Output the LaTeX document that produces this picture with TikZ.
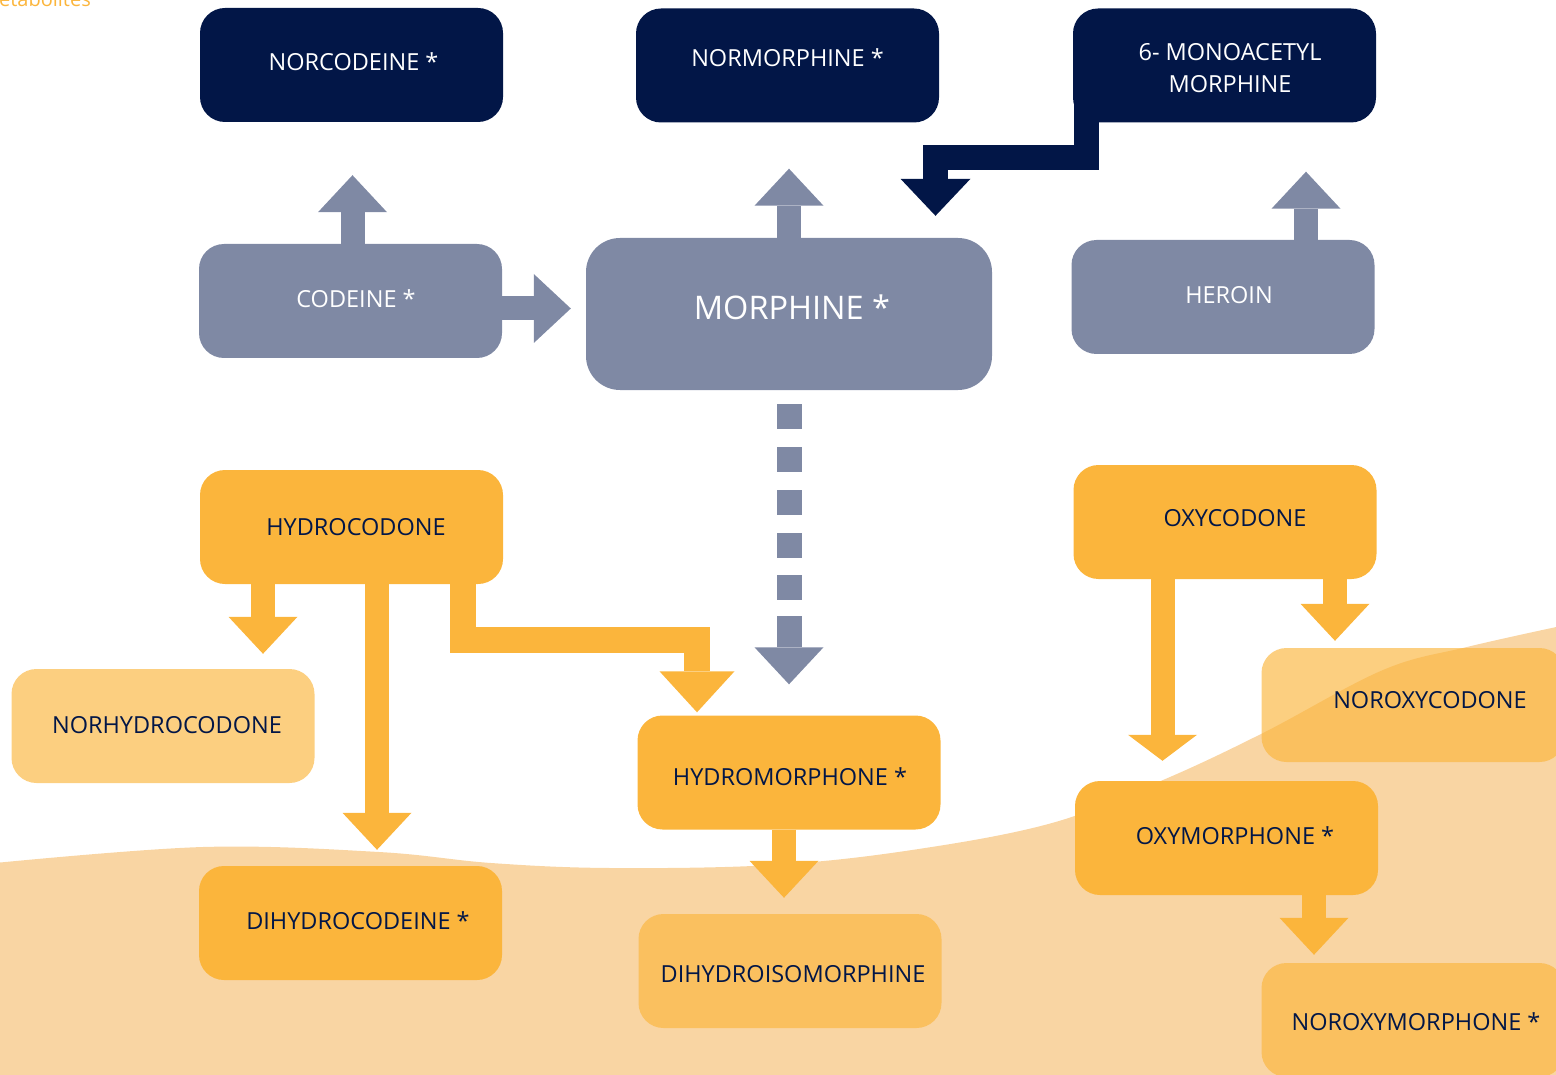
\documentclass[tikz,border=0pt]{standalone}
\usepackage{fontspec}
\setmainfont{Open Sans}
\usepackage{tikz}
\usetikzlibrary{arrows.meta,positioning}
\definecolor{navy}{RGB}{2,22,71}
\definecolor{slate}{RGB}{127,137,164}
\definecolor{amber}{RGB}{251,181,60}
\definecolor{peach}{RGB}{249,213,163}
\tikzset{
box/.style={rectangle,rounded corners=25pt,minimum width=303pt,minimum height=114pt,inner sep=0pt},
navybox/.style={box,fill=navy},
slatebox/.style={box,fill=slate},
amberbox/.style={box,fill=amber},
palebox/.style={box,fill=amber,fill opacity=0.65},
light/.style={text=white,text opacity=1,inner sep=0pt,align=center,font=\fontsize{23.5}{32}\selectfont},
dark/.style={light,text=navy},
pathway/.style={line width=24pt,-{Triangle[width=69pt,length=37pt,line width=0pt]}},
}
\begin{document}
\begin{tikzpicture}[x=1pt,y=-1pt]
\useasboundingbox (0,0) rectangle (1556,1075);
% background wave
\fill[peach] plot[smooth,tension=0.6] coordinates {(-5,863) (203,847) (379,852) (491,863)
  (610,868) (772,865) (912,850) (1052,823) (1163,780) (1263,733) (1383,670) (1467,647) (1561,626)}
  -- (1561,1080) -- (-5,1080) -- cycle;
\node[anchor=base east,inner sep=0pt,text=amber,font=\fontsize{20}{24}\selectfont] (title) at (91,7) {Metabolites};

\node[navybox,label={[light,xshift=2pt,yshift=3pt]center:NORCODEINE *}] (norcodeine) at (351.5,65) {};
\node[navybox,label={[light,yshift=7.5pt]center:NORMORPHINE *}] (normorphine) at (787.5,65.5) {};
\node[navybox,label={[light,xshift=5.5pt,yshift=-3pt]center:6- MONOACETYL\\MORPHINE}] (mam) at (1224.5,65.5) {};
\node[slatebox,label={[light,xshift=5.5pt,yshift=2pt]center:CODEINE *}] (codeine) at (350.5,301) {};
\node[slatebox,minimum width=406pt,minimum height=152pt,rounded corners=34pt,
  label={[light,xshift=3pt,yshift=7pt,font=\fontsize{32.5}{40}\selectfont]center:MORPHINE *}] (morphine) at (789,314) {};
\node[slatebox,label={[light,xshift=6pt,yshift=2pt]center:HEROIN}] (heroin) at (1223,297) {};
\node[amberbox,label={[dark,xshift=4.5pt]center:HYDROCODONE}] (hydro) at (351.5,527) {};
\node[palebox,label={[dark,xshift=4pt,yshift=1pt]center:NORHYDROCODONE}] (norhydro) at (163,726) {};
\node[amberbox,label={[dark,xshift=7.5pt,yshift=2pt]center:DIHYDROCODEINE *}] (dihydrocodeine) at (350.5,923) {};
\node[amberbox,label={[dark,xshift=1pt,yshift=-4.5pt]center:HYDROMORPHONE *}] (hydromorphone) at (789,772.5) {};
\node[palebox,label={[dark,xshift=3pt,yshift=-3pt]center:DIHYDROISOMORPHINE}] (dihydroiso) at (790,971) {};
\node[amberbox,label={[dark,xshift=10pt,yshift=4pt]center:OXYCODONE}] (oxycodone) at (1225,522) {};
\node[palebox,label={[dark,xshift=17pt,yshift=5pt]center:NOROXYCODONE}] (noroxycodone) at (1413,705) {};
\node[amberbox,label={[dark,xshift=8.5pt,yshift=2pt]center:OXYMORPHONE *}] (oxymorphone) at (1226.5,838) {};
\node[palebox,label={[dark,xshift=3pt,yshift=-2pt]center:NOROXYMORPHONE *}] (noroxymorphone) at (1413,1020) {};

% opiates
\path[pathway,slate] ([xshift=2pt]codeine.north) edge[shorten >=53pt] ([xshift=1pt]norcodeine.south);
\path[pathway,slate] (morphine.north) edge[shorten >=46pt] ([xshift=1.5pt]normorphine.south);
\path[pathway,slate] ([xshift=83pt]heroin.north) edge[shorten >=49pt] ([xshift=81.5pt]mam.south);
\path[pathway,slate] ([yshift=-7.5pt]codeine.east) edge[shorten >=15pt] ([yshift=5.5pt]morphine.west);
\draw[pathway,navy,line width=25pt,-{Triangle[width=70pt,length=37pt,line width=0pt]},shorten >=22pt]
  ([xshift=-138pt,yshift=20pt]mam.south) -- ++(0,55) -| ([xshift=146.5pt]morphine.north);
\path[pathway,slate,line width=25pt,dash pattern=on 25pt off 18pt on 25pt off 18pt on 25pt off 18pt
  on 25pt off 17pt on 25pt off 16pt on 40pt off 40pt]
  (morphine.south) edge[shorten <=14pt,shorten >=31pt] (hydromorphone.north);

% semi-synthetic
\path[pathway,amber] ([xshift=-88.5pt]hydro.south) edge[shorten >=15pt] ([xshift=100pt]norhydro.north);
\path[pathway,amber] ([xshift=25.5pt]hydro.south) edge[shorten >=16pt] ([xshift=26.5pt]dihydrocodeine.north);
\draw[pathway,amber,line width=26pt,-{Triangle[width=75pt,length=41pt,line width=0pt]},shorten >=3pt]
  ([xshift=111pt]hydro.south) -- ++(0,55.5) -| ([xshift=-92pt]hydromorphone.north);
\path[pathway,amber] ([xshift=-5pt]hydromorphone.south) edge[shorten >=16pt] ([xshift=-6pt]dihydroiso.north);
\path[pathway,amber,-{Triangle[width=69pt,length=26pt,line width=0pt]}]
  ([xshift=-62.5pt]oxycodone.south) edge[shorten >=20pt] ([xshift=-64pt]oxymorphone.north);
\path[pathway,amber] ([xshift=110pt]oxycodone.south) edge[shorten >=7pt] ([xshift=-78pt]noroxycodone.north);
\path[pathway,amber] ([xshift=87.5pt]oxymorphone.south) edge[shorten >=8pt] ([xshift=-99pt]noroxymorphone.north);
\end{tikzpicture}
\end{document}
